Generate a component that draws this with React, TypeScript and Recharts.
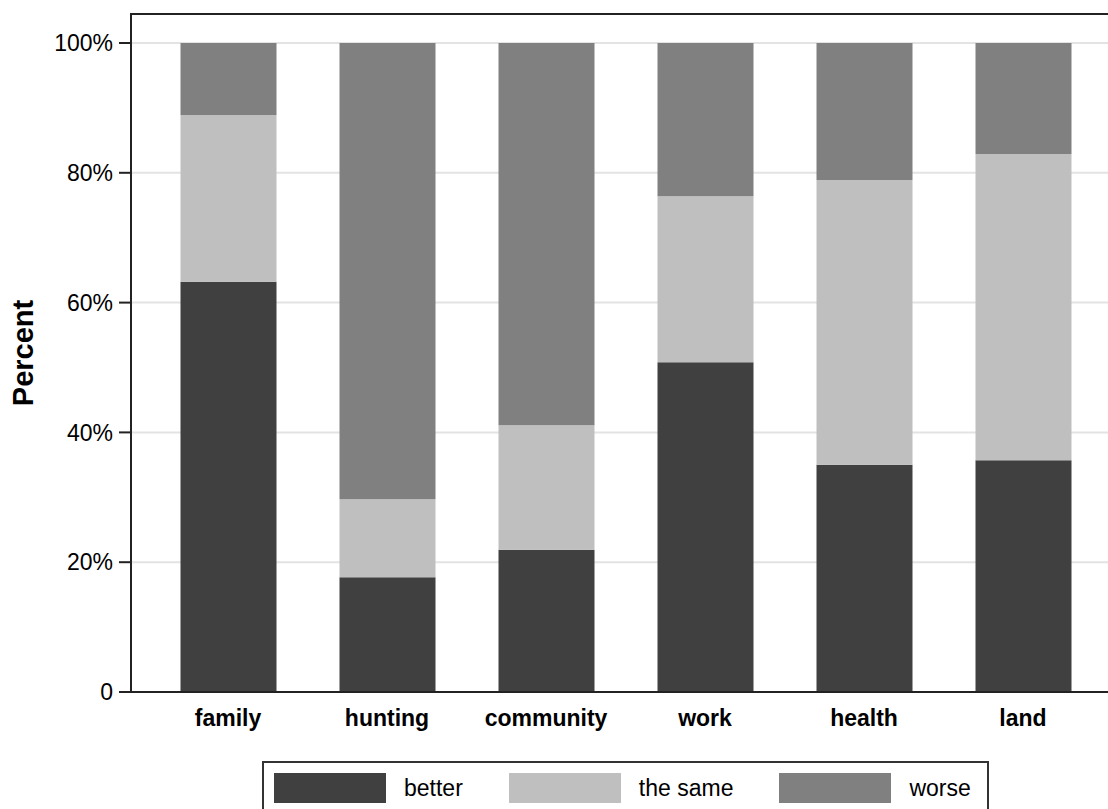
import { Bar, BarChart, CartesianGrid, XAxis, YAxis } from "recharts";

const categories = ["family", "hunting", "community", "work", "health", "land"];
const better = [63.2, 17.7, 21.9, 50.8, 35.0, 35.7];
const theSame = [25.7, 12.0, 19.2, 25.6, 43.9, 47.2];
const worse = [11.1, 70.3, 58.9, 23.6, 21.1, 17.1];
const yTicks = [0, 20, 40, 60, 80, 100];

const seriesInfo = [
    { key: "better", name: "better", color: "#404040" },
    { key: "same", name: "the same", color: "#bfbfbf" },
    { key: "worse", name: "worse", color: "#808080" },
];

const data = categories.map((c, i) => ({ name: c, better: better[i], same: theSame[i], worse: worse[i] }));

const font = '"Liberation Sans", Arial, sans-serif';

function PercentLabel(props: any) {
    const vb = props.viewBox;
    const x = vb.x + 33;
    const y = vb.y + vb.height / 2;
    return (
        <text x={x} y={y} transform={`rotate(-90, ${x}, ${y})`} textAnchor="middle"
            fontFamily={font} fontWeight="bold" fontSize={29} fill="#000">Percent</text>
    );
}

export default function App() {
    return (
        <div style={{ position: "absolute", left: 0, top: 0, width: 1108, height: 809, overflow: "hidden", background: "#fff", fontFamily: font }}>
            <BarChart width={1125} height={809} data={data} margin={{ top: 14, right: 5, bottom: 77, left: 0 }}>
                <CartesianGrid vertical={false} stroke="#e3e3e3" strokeWidth={2} />
                <XAxis dataKey="name" type="category" padding={{ left: 17.5, right: 17.5 }} height={40}
                    axisLine={{ stroke: "#222", strokeWidth: 2 }} tickLine={false} tickSize={0} tickMargin={18}
                    tick={{ fill: "#000", fontSize: 23, fontWeight: "bold", fontFamily: font }} interval={0} />
                <YAxis type="number" domain={[0, 100]} ticks={yTicks} width={131} padding={{ top: 29 }}
                    tickFormatter={(v: number) => (v === 0 ? "0" : `${v}%`)}
                    axisLine={{ stroke: "#222", strokeWidth: 2 }} tickLine={{ stroke: "#222", strokeWidth: 2 }}
                    tickSize={12} tickMargin={6}
                    tick={{ fill: "#000", fontSize: 23, fontFamily: font }}
                    label={<PercentLabel />} />
                {seriesInfo.map((s) => (
                    <Bar key={s.key} dataKey={s.key} name={s.name} stackId="a" fill={s.color} barSize={96} isAnimationActive={false} />
                ))}
            </BarChart>
            {/* plot frame top edge */}
            <div style={{ position: "absolute", left: 130, top: 13, width: 1000, height: 0, borderTop: "2px solid #222" }} />
            <div style={{ position: "absolute", left: 262, top: 761, width: 727, height: 70, border: "2px solid #333", boxSizing: "border-box", display: "flex", flexWrap: "nowrap", alignItems: "flex-start", paddingLeft: 10, paddingTop: 10, whiteSpace: "nowrap" }}>
                {seriesInfo.map((s) => (
                    <div key={s.key} style={{ display: "flex", alignItems: "center", flexShrink: 0, marginRight: 46 }}>
                        <div style={{ width: 112, height: 30, background: s.color, flexShrink: 0 }} />
                        <span style={{ marginLeft: 18, fontSize: 23, color: "#000" }}>{s.name}</span>
                    </div>
                ))}
            </div>
        </div>
    );
}
